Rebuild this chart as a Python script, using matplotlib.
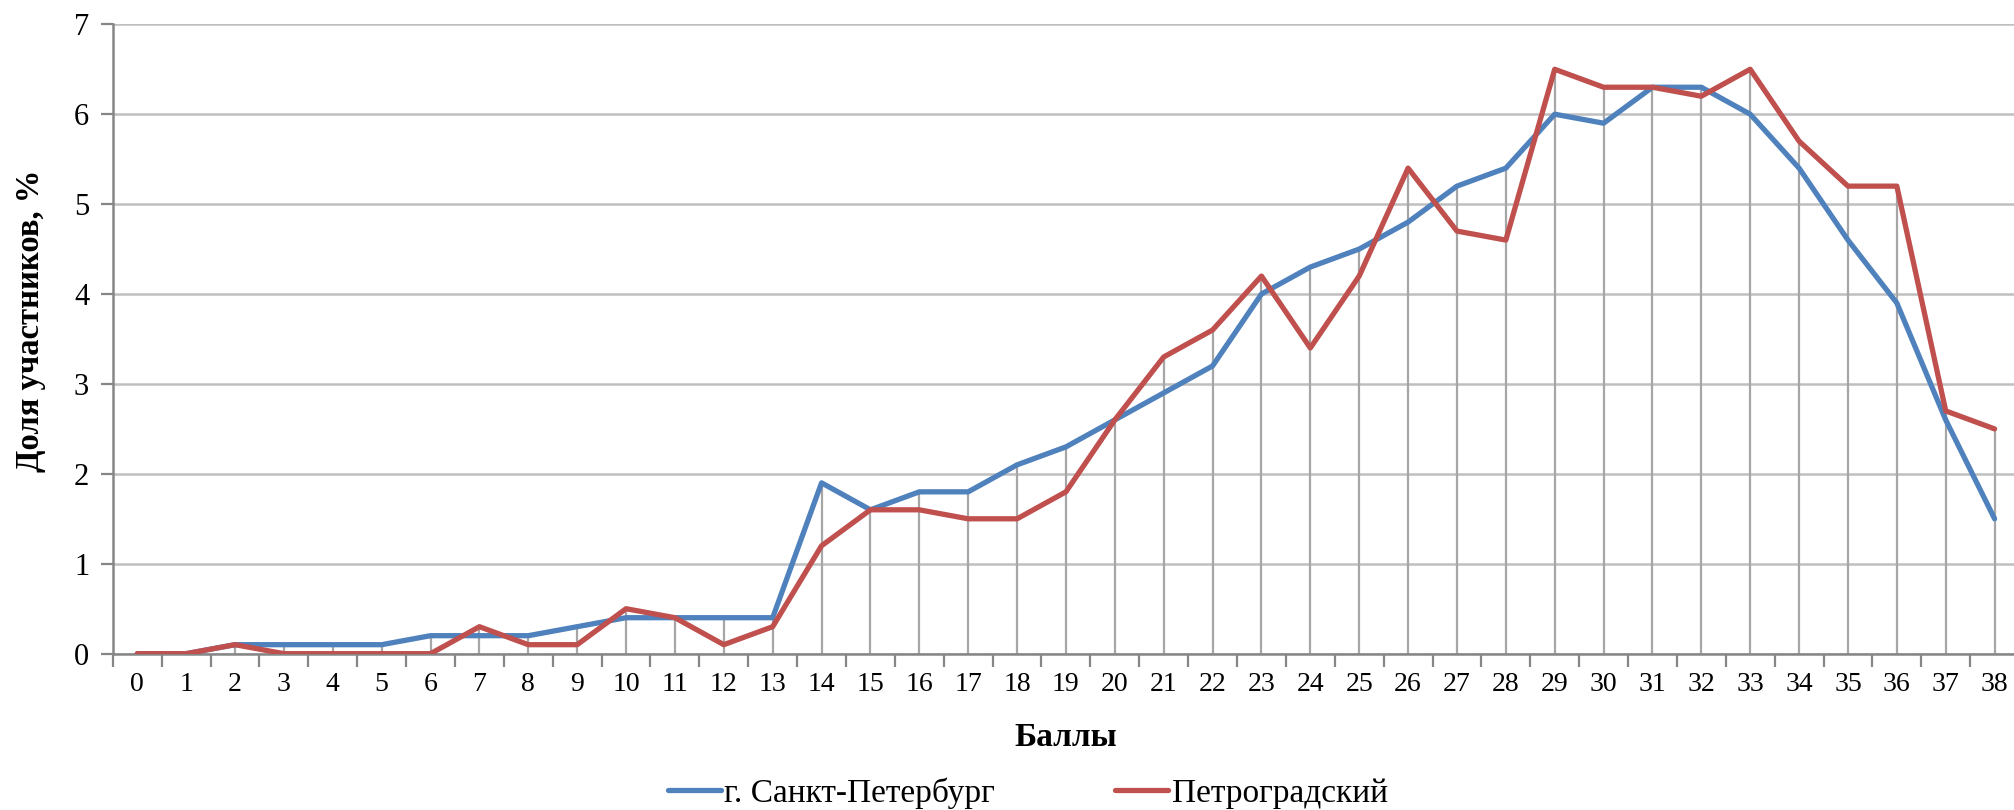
import numpy as np
import matplotlib.pyplot as plt

# Данные: доля участников по баллам
scores = list(range(0, 39))
spb = [0, 0, 0.1, 0.1, 0.1, 0.1, 0.2, 0.2, 0.2, 0.3, 0.4, 0.4, 0.4, 0.4,
       1.9, 1.6, 1.8, 1.8, 2.1, 2.3, 2.6, 2.9, 3.2, 4.0, 4.3, 4.5, 4.8,
       5.2, 5.4, 6.0, 5.9, 6.3, 6.3, 6.0, 5.4, 4.6, 3.9, 2.6, 1.5]
petro = [0, 0, 0.1, 0, 0, 0, 0, 0.3, 0.1, 0.1, 0.5, 0.4, 0.1, 0.3,
         1.2, 1.6, 1.6, 1.5, 1.5, 1.8, 2.6, 3.3, 3.6, 4.2, 3.4, 4.2, 5.4,
         4.7, 4.6, 6.5, 6.3, 6.3, 6.2, 6.5, 5.7, 5.2, 5.2, 2.7, 2.5]
series_names = ['г. Санкт-Петербург', 'Петроградский']

plt.rcParams['font.family'] = ['Liberation Serif', 'DejaVu Serif']

fig = plt.figure(figsize=(20.15, 8.1), dpi=100)
ax = fig.add_axes([0.056, 0.193, 0.946, 0.777])

x = np.array(scores)
top = np.maximum(spb, petro)

# Вертикальные линии проекции
ax.vlines(x, 0, top, colors='#A6A6A6', linewidth=1.6, zorder=1)

ax.plot(x, spb, color='#4F81BD', linewidth=3.8, label=series_names[0],
        zorder=3, solid_capstyle='round')
ax.plot(x, petro, color='#C0504D', linewidth=3.8, label=series_names[1],
        zorder=4, solid_capstyle='round')

ax.set_xlim(-0.5, 38.42)
ax.set_ylim(0, 7)
ax.set_yticks(range(0, 8))
ax.yaxis.grid(True, color='#BFBFBF', linewidth=1.8)
ax.set_axisbelow(True)

ax.set_xticks(x)
ax.set_xticks(np.arange(-0.5, 39, 1), minor=True)
ax.tick_params(axis='x', which='major', length=0, labelsize=20, pad=13)
ax.tick_params(axis='x', which='minor', length=9, width=1.6, color='#868686',
               direction='out')
ax.tick_params(axis='y', length=9, width=1.6, color='#868686', labelsize=22,
               pad=8)

for side in ['top', 'right']:
    ax.spines[side].set_visible(False)
for side in ['left', 'bottom']:
    ax.spines[side].set_color('#868686')
    ax.spines[side].set_linewidth(1.8)

ax.set_xlabel('Баллы', fontsize=24, fontweight='bold', labelpad=18)
ax.set_ylabel('Доля участников, %', fontsize=23.5, fontweight='bold')
ax.yaxis.set_label_coords(-0.035, 0.529)

fig.legend(loc='center', bbox_to_anchor=(0.51, 0.021), ncol=2,
           frameon=False, fontsize=24, handlelength=1.6, handletextpad=0.1,
           columnspacing=3.6)

fig.savefig('out.png', dpi=100)
